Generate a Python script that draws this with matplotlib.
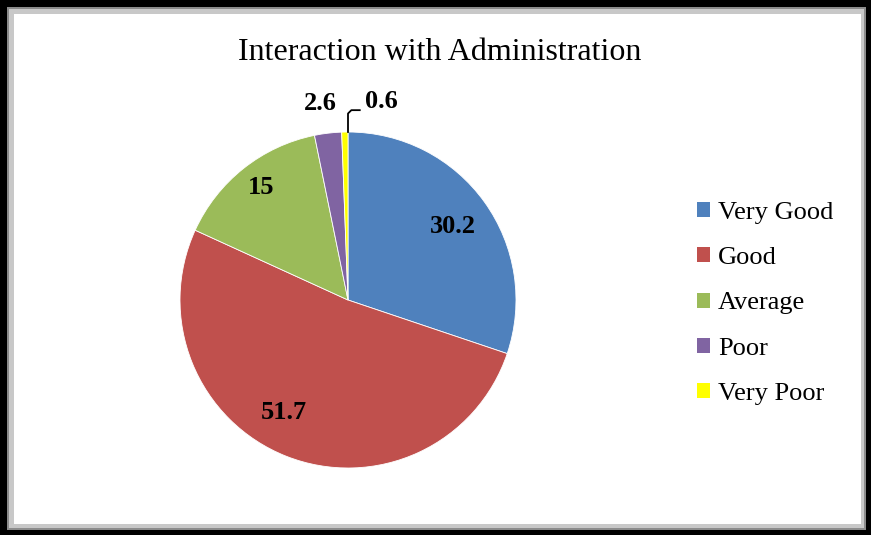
import matplotlib
matplotlib.use("Agg")
from matplotlib import pyplot as plt
from matplotlib.patches import Rectangle

categories = ['Very Good', 'Good', 'Average', 'Poor', 'Very Poor']
values = [30.2, 51.7, 15, 2.6, 0.6]
colors = ['#4F81BD', '#C0504D', '#9BBB59', '#8064A2', '#FFFF00']
value_labels = ['30.2', '51.7', '15', '2.6', '0.6']
# label spots in pie units (radius = 1)
label_pos = [(0.625, 0.435), (-0.38, -0.67), (-0.52, 0.67), (-0.167, 1.17), (0.196, 1.18)]

W, H = 871, 535
fig = plt.figure(figsize=(W / 100, H / 100), dpi=100)
fig.patch.set_facecolor('black')

# framed white chart area with grey shadow edge
bg = fig.add_axes([0, 0, 1, 1])
bg.set_xlim(0, W)
bg.set_ylim(H, 0)
bg.axis('off')
bg.add_patch(Rectangle((7, 7), 859, 523, facecolor='#8c8c8c', edgecolor='none'))
bg.add_patch(Rectangle((9, 9), 855, 519, facecolor='#c8c8c8', edgecolor='none'))
bg.add_patch(Rectangle((14, 14), 847, 510, facecolor='white', edgecolor='none'))

bg.text(440, 53, 'Interaction with Administration', ha='center', va='center',
        fontsize=23, family='Liberation Serif', color='black')

cx, cy, r = 348, 300, 168
ax = fig.add_axes([(cx - r) / W, (H - cy - r) / H, 2 * r / W, 2 * r / H])

wedges, _ = ax.pie(values, colors=colors, startangle=90, counterclock=False,
                   radius=1, wedgeprops=dict(edgecolor='white', linewidth=0.6))
ax.set_xlim(-1, 1)
ax.set_ylim(-1, 1)
ax.set_aspect('equal')
ax.axis('off')

for (x, y), t in zip(label_pos, value_labels):
    ax.text(x, y, t, ha='center', va='center', fontsize=19, fontweight='bold',
            family='Liberation Serif', color='black', clip_on=False)

# leader line for the tiny slice
ax.plot([0.0, 0.0, 0.02, 0.07], [1.0, 1.11, 1.13, 1.13], color='black',
        lw=1.3, clip_on=False)

handles = [Rectangle((0, 0), 1, 1, facecolor=c, edgecolor='none') for c in colors]
fig.legend(handles, categories, loc='upper left', bbox_to_anchor=(697 / W, 1 - 202 / H),
           frameon=False, prop=dict(family='Liberation Serif', size=19),
           borderpad=0, borderaxespad=0,
           handlelength=0.5, handleheight=0.5, handletextpad=0.3, labelspacing=0.88)

fig.savefig('out.png', dpi=100, facecolor='black')
